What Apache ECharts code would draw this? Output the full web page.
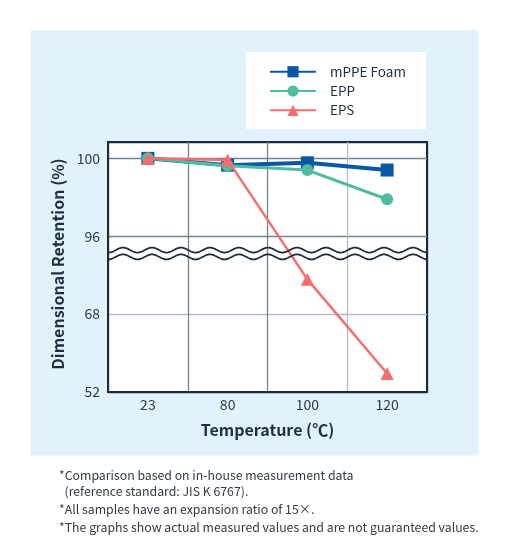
<!DOCTYPE html>
<html>
<head>
<meta charset="utf-8">
<script src="https://cdn.jsdelivr.net/npm/echarts@6/dist/echarts.min.js"></script>
<style>
html,body{margin:0;padding:0;background:#fff;}
#c{width:510px;height:551px;}
</style>
</head>
<body>
<div id="c"></div>
<script>
// ---- data ----
const categories = ['23', '80', '100', '120'];
const mppeFoam = [100.0, 99.65, 99.77, 99.4];
const epp = [100.0, 99.62, 99.4, 97.9];
const eps = [100.0, 99.92, 80.5, 55.8];
const yTickLabels = [52, 68, 96, 100];
const seriesNames = ['mPPE Foam', 'EPP', 'EPS'];
const footnotes = [
  '*Comparison based on in-house measurement data',
  '  (reference standard: JIS K 6767).',
  '*All samples have an expansion ratio of 15\u00d7.',
  '*The graphs show actual measured values and are not guaranteed values.'
];
// break marks position (in broken-axis units)
const breakMarks = [1.822, 1.735];

// piecewise mapping of real value to broken-axis units
function toAxis(v) {
  const t = yTickLabels;
  for (let i = 0; i < t.length - 1; i++) {
    if (v <= t[i + 1] || i === t.length - 2) {
      return i + (v - t[i]) / (t[i + 1] - t[i]);
    }
  }
}

const chart = echarts.init(document.getElementById('c'), null, {renderer: 'canvas'});
const FONT = 'Noto Sans CJK JP';
const DARK = '#1b2b3d';
const GRID_L = 108, GRID_T = 142, GRID_R = 83, GRID_B = 159;

const baseGraphics = [
  {id: 'panel', type: 'rect', z: -10, shape: {x: 30.5, y: 30.5, width: 448, height: 425}, style: {fill: '#e2f2fd'}},
  {id: 'legendBox', type: 'rect', z: 1, shape: {x: 246, y: 52, width: 180, height: 77}, style: {fill: '#ffffff'}}
];
const noteYs = [477, 493, 510.5, 528.5];
footnotes.forEach((t, i) => {
  baseGraphics.push({
    id: 'note' + i, type: 'text', left: 59, top: noteYs[i] - 7.5,
    style: {text: t, fill: '#333a42', font: '12.3px "' + FONT + '"'}
  });
});

const option = {
  animation: false,
  textStyle: {fontFamily: FONT},
  grid: {
    left: GRID_L, top: GRID_T, right: GRID_R, bottom: GRID_B,
    show: true, backgroundColor: '#ffffff', borderColor: DARK, borderWidth: 2
  },
  legend: {
    orient: 'vertical', left: 269, top: 65, padding: 0,
    itemWidth: 46, itemHeight: 14, itemGap: 5.8,
    data: seriesNames,
    textStyle: {fontSize: 13.5, color: '#1c2e40', fontFamily: FONT, padding: [0, 0, 0, 9]}
  },
  xAxis: {
    type: 'category', data: categories, boundaryGap: true,
    name: 'Temperature (\u2103)', nameLocation: 'middle', nameGap: 30,
    nameTextStyle: {fontSize: 16, fontWeight: 'bold', color: '#1c2e40', fontFamily: FONT},
    axisLine: {show: true, lineStyle: {color: DARK, width: 2}},
    axisTick: {show: false},
    axisLabel: {fontSize: 14, color: '#2b3a4a', margin: 6, fontFamily: FONT},
    splitLine: {show: true, lineStyle: {color: [DARK, '#75838f', '#75838f', '#b3bcc5', DARK], width: 1.3}}
  },
  yAxis: {
    type: 'value', min: 0, max: 3.21, interval: 1,
    name: 'Dimensional Retention (%)', nameLocation: 'middle', nameGap: 39,
    nameTextStyle: {fontSize: 16, fontWeight: 'bold', color: '#1c2e40', fontFamily: FONT, padding: [0, 0, 0, 6]},
    axisLine: {show: true, lineStyle: {color: DARK, width: 2}},
    axisTick: {show: false},
    axisLabel: {
      fontSize: 14, color: '#2b3a4a', margin: 8, fontFamily: FONT,
      formatter: v => (Math.abs(v - Math.round(v)) < 1e-6 && yTickLabels[Math.round(v)] !== undefined) ? String(yTickLabels[Math.round(v)]) : ''
    },
    splitLine: {show: true, lineStyle: {color: [DARK, '#b3bcc5', '#75838f', '#75838f'], width: 1.3}}
  },
  series: [
    {
      name: seriesNames[0], type: 'line', data: mppeFoam.map(toAxis),
      symbol: 'rect', symbolSize: 13, z: 2,
      itemStyle: {color: '#0a57a6'}, lineStyle: {color: '#0a57a6', width: 4}
    },
    {
      name: seriesNames[1], type: 'line', data: epp.map(toAxis),
      symbol: 'circle', symbolSize: 12, z: 3,
      itemStyle: {color: '#50bb9f'}, lineStyle: {color: '#50bb9f', width: 3}
    },
    {
      name: seriesNames[2], type: 'line', data: eps.map(toAxis),
      symbol: 'triangle', symbolSize: 13, z: 4,
      itemStyle: {color: '#f56e6d'}, lineStyle: {color: '#f56e6d', width: 2.5}
    }
  ],
  graphic: {elements: baseGraphics}
};
chart.setOption(option);

// wavy break marks drawn from axis positions
const gridW = 510 - GRID_L - GRID_R;
const waves = breakMarks.map((b, k) => {
  const y0 = chart.convertToPixel({yAxisIndex: 0}, b);
  const pts = [];
  const period = 29, amp = 2.5;
  for (let x = 0; x <= gridW; x += 1) {
    pts.push([GRID_L + x, y0 - amp * Math.cos(2 * Math.PI * (x - 15) / period)]);
  }
  return {
    id: 'wave' + k, type: 'polyline', z: 5,
    shape: {points: pts, smooth: 0},
    style: {stroke: DARK, lineWidth: 1.8, fill: null}
  };
});
chart.setOption({graphic: {elements: baseGraphics.concat(waves)}});
</script>
</body>
</html>
